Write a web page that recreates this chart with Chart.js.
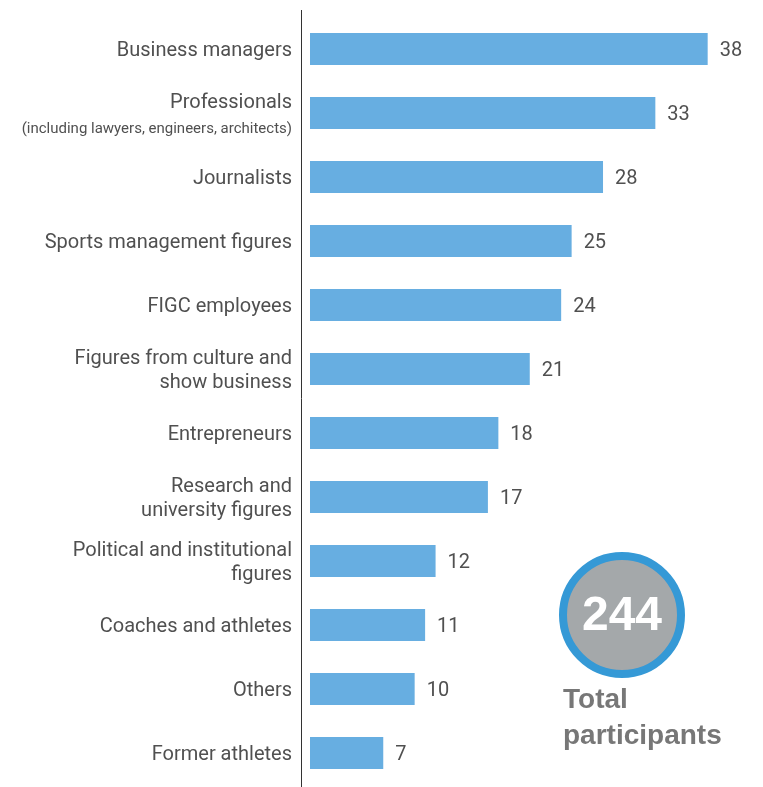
<!DOCTYPE html>
<html>
<head>
<meta charset="utf-8">
<script src="https://cdn.jsdelivr.net/npm/chart.js@4.4.0/dist/chart.umd.min.js"></script>
<style>
  html, body { margin: 0; padding: 0; background: #fff; }
  #wrap { position: relative; width: 763px; height: 787px; }
</style>
</head>
<body>
<div id="wrap"><canvas id="chart" width="763" height="787"></canvas></div>
<script>
// ── Data ──
const categories = [
    ['Business managers'],
    ['Professionals', '(including lawyers, engineers, architects)'],
    ['Journalists'],
    ['Sports management figures'],
    ['FIGC employees'],
    ['Figures from culture and', 'show business'],
    ['Entrepreneurs'],
    ['Research and', 'university figures'],
    ['Political and institutional', 'figures'],
    ['Coaches and athletes'],
    ['Others'],
    ['Former athletes'],
];
const participants = [38, 33, 28, 25, 24, 21, 18, 17, 12, 11, 10, 7];
const totalParticipants = 244;

const TEXT = '#505050';
const FONT = 'Roboto, "Liberation Sans", sans-serif';

// ── Labels, values, axis line and total badge ──
const decorations = {
    id: 'decorations',
    afterDatasetsDraw(chart) {
        const { ctx, scales: { y }, chartArea } = chart;
        const meta = chart.getDatasetMeta(0);
        ctx.save();

        // axis line
        ctx.strokeStyle = '#333';
        ctx.lineWidth = 1;
        ctx.beginPath();
        ctx.moveTo(chartArea.left + 0.5, 10);
        ctx.lineTo(chartArea.left + 0.5, chart.height);
        ctx.stroke();

        // category labels
        ctx.fillStyle = TEXT;
        ctx.textAlign = 'right';
        ctx.textBaseline = 'middle';
        categories.forEach((lines, i) => {
            const cy = y.getPixelForValue(i) + 2;
            const x = chartArea.left - 9;
            if (lines.length === 1) {
                ctx.font = `20px ${FONT}`;
                ctx.fillText(lines[0], x, cy);
            } else if (lines[0] === 'Professionals') {
                ctx.font = `20px ${FONT}`;
                ctx.fillText(lines[0], x, cy - 12);
                ctx.font = `15px ${FONT}`;
                ctx.fillText(lines[1], x, cy + 14);
            } else {
                ctx.font = `20px ${FONT}`;
                ctx.fillText(lines[0], x, cy - 12);
                ctx.fillText(lines[1], x, cy + 12);
            }
        });

        // value labels
        ctx.textAlign = 'left';
        ctx.font = `20px ${FONT}`;
        meta.data.forEach((bar, i) => {
            ctx.fillText(String(participants[i]), bar.x + 12, bar.y + 2);
        });

        // total badge
        const cx = 622, cyc = 615, r = 59;
        ctx.beginPath();
        ctx.arc(cx, cyc, r, 0, Math.PI * 2);
        ctx.fillStyle = '#a4a8aa';
        ctx.fill();
        ctx.lineWidth = 8;
        ctx.strokeStyle = '#3599d6';
        ctx.stroke();

        ctx.fillStyle = '#fff';
        ctx.textAlign = 'center';
        ctx.font = `bold 48px "Liberation Sans", Arial, sans-serif`;
        ctx.fillText(String(totalParticipants), cx, cyc + 2);

        ctx.fillStyle = '#777';
        ctx.textAlign = 'left';
        ctx.textBaseline = 'alphabetic';
        ctx.font = `bold 28px "Liberation Sans", Arial, sans-serif`;
        ctx.fillText('Total', 563, 708);
        ctx.fillText('participants', 563, 744);

        ctx.restore();
    }
};

new Chart(document.getElementById('chart'), {
    type: 'bar',
    data: {
        labels: categories.map(c => c.join(' ')),
        datasets: [{
            data: participants,
            backgroundColor: '#67aee1',
            barPercentage: 0.5,
            categoryPercentage: 1.0,
        }],
    },
    options: {
        indexAxis: 'y',
        responsive: false,
        animation: false,
        layout: { padding: { top: 17, bottom: 2, left: 0, right: 3 } },
        plugins: { legend: { display: false }, tooltip: { enabled: false } },
        scales: {
            x: {
                min: -0.86, max: 43,
                display: false,
                grid: { display: false },
            },
            y: {
                grid: { display: false, drawTicks: false },
                border: { display: false },
                ticks: { display: false },
                afterFit(scale) { scale.width = 301; },
            },
        },
    },
    plugins: [decorations],
});
</script>
</body>
</html>
